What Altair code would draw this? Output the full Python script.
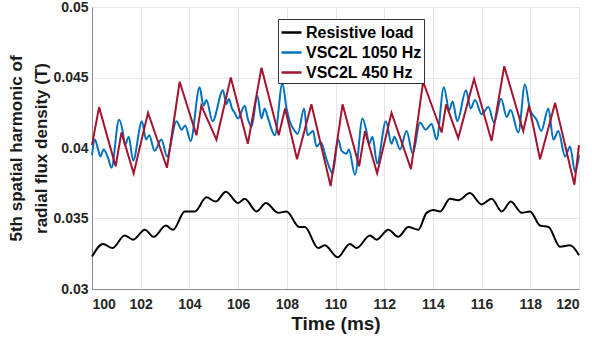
import altair as alt
import pandas as pd

# ---- data ----
res_t = [100.0, 100.45, 100.84, 101.34, 101.69, 102.17, 102.54, 103.03, 103.33, 103.81,
         104.22, 104.70, 105.08, 105.50, 106.0, 106.27, 106.76, 107.14, 107.65, 107.99,
         108.51, 108.74, 109.29, 109.56, 110.09, 110.59, 110.87, 111.41, 111.69, 112.17,
         112.58, 112.99, 113.40, 113.74, 114.02, 114.3, 114.70, 115.04, 115.52, 116.00,
         116.41, 116.83, 117.20, 117.65, 117.99, 118.40, 118.75, 119.22, 119.63, 120.0]
res_v = [0.0323, 0.0332, 0.0329, 0.0338, 0.0335, 0.0342, 0.0337, 0.0345, 0.0342, 0.0355,
         0.0355, 0.0365, 0.0362, 0.0369, 0.0361, 0.0364, 0.0355, 0.0361, 0.0354, 0.0355,
         0.0344, 0.0344, 0.0329, 0.0331, 0.03225, 0.0332, 0.0329, 0.0338, 0.0335, 0.0342,
         0.0337, 0.0344, 0.0342, 0.0354, 0.0356, 0.0355, 0.0364, 0.0363, 0.0368, 0.0360,
         0.0364, 0.0355, 0.0362, 0.0354, 0.0355, 0.0345, 0.0344, 0.0330, 0.0331, 0.0324]

blue_t = [100.00, 100.12, 100.25, 100.34, 100.48, 100.66, 100.80, 101.11, 101.27, 101.35,
          101.51, 101.69, 102.05, 102.22, 102.35, 102.57, 102.85, 103.08, 103.47, 103.68,
          103.83, 104.05, 104.42, 104.58, 104.70, 104.95, 105.38, 105.52, 105.62, 105.75,
          105.86, 106.00, 106.27, 106.41, 106.55, 106.79, 106.96, 107.09, 107.23, 107.51,
          107.82, 107.99, 108.12, 108.33, 108.45, 108.71, 108.85, 109.08, 109.22, 109.40,
          109.63, 109.88, 110.11, 110.25, 110.45, 110.55, 110.80, 111.11, 111.28, 111.38,
          111.52, 111.71, 112.07, 112.30, 112.42, 112.65, 112.92, 113.17, 113.47, 113.70,
          113.95, 114.15, 114.45, 114.67, 114.81, 115.00, 115.36, 115.55, 115.73, 116.00,
          116.28, 116.51, 116.80, 117.03, 117.19, 117.51, 117.78, 117.99, 118.26, 118.45,
          118.74, 118.95, 119.15, 119.43, 119.63, 119.84, 120.00]
blue_v = [0.0395, 0.0406, 0.0399, 0.0394, 0.0399, 0.0393, 0.0386, 0.0420, 0.0411, 0.0402,
          0.0408, 0.0391, 0.0419, 0.0406, 0.0409, 0.0398, 0.0406, 0.0394, 0.0419, 0.0413,
          0.0416, 0.0405, 0.0443, 0.0430, 0.0434, 0.0419, 0.0441, 0.0431, 0.0435, 0.0428,
          0.0425, 0.0421, 0.0430, 0.0420, 0.0415, 0.0437, 0.0421, 0.0428, 0.0421, 0.0409,
          0.0446, 0.0428, 0.0419, 0.0412, 0.0410, 0.0428, 0.0409, 0.0412, 0.0401, 0.0404,
          0.0392, 0.0382, 0.0406, 0.0398, 0.0396, 0.0399, 0.0381, 0.0421, 0.0411, 0.0403,
          0.0408, 0.0389, 0.0419, 0.0403, 0.0408, 0.0399, 0.0412, 0.0396, 0.0418, 0.0413,
          0.0417, 0.0406, 0.0443, 0.0427, 0.0433, 0.0419, 0.0441, 0.0428, 0.0434, 0.0424,
          0.0429, 0.0418, 0.0435, 0.0422, 0.0427, 0.0411, 0.0445, 0.0427, 0.0420, 0.0412,
          0.0428, 0.0406, 0.0412, 0.0394, 0.0401, 0.0383, 0.0395]

red_t = [100.00, 100.29, 100.97, 101.21, 101.71, 102.30, 103.08, 103.60, 104.29, 104.49,
         105.11, 105.70, 106.40, 106.96, 107.67, 107.93, 108.42, 109.01, 109.80, 110.29,
         110.97, 111.21, 111.71, 112.30, 113.10, 113.60, 114.36, 114.54, 115.04, 115.69,
         116.41, 116.93, 117.71, 117.95, 118.40, 119.02, 119.81, 120.00]
red_v = [0.0402, 0.0429, 0.0387, 0.0411, 0.0382, 0.0425, 0.0386, 0.0447, 0.0409, 0.0430,
         0.0406, 0.0450, 0.0403, 0.0457, 0.0409, 0.0428, 0.0392, 0.0431, 0.0373, 0.0431,
         0.0387, 0.0412, 0.0382, 0.0425, 0.0385, 0.0447, 0.0411, 0.0431, 0.0407, 0.0449,
         0.0405, 0.0458, 0.0412, 0.0430, 0.0392, 0.0432, 0.0374, 0.0402]

series_names = ["Resistive load", "VSC2L 1050 Hz", "VSC2L 450 Hz"]
series_colors = ["#000000", "#0072BD", "#A2142F"]
x_ticks = list(range(100, 121, 2))
y_ticks = [0.03, 0.035, 0.04, 0.045, 0.05]

df_smooth = pd.concat([
    pd.DataFrame({"t": res_t, "v": res_v, "s": series_names[0], "o": range(len(res_t))}),
    pd.DataFrame({"t": blue_t, "v": blue_v, "s": series_names[1], "o": range(len(blue_t))}),
])
df_red = pd.DataFrame({"t": red_t, "v": red_v, "s": series_names[2], "o": range(len(red_t))})

FONT = "Liberation Sans"

x_enc = alt.X("t:Q", scale=alt.Scale(domain=[100, 120], nice=False, zero=False),
              axis=alt.Axis(values=x_ticks, format="d", title="Time (ms)",
                            titleFontSize=19, titlePadding=3, labelPadding=8))
y_enc = alt.Y("v:Q", scale=alt.Scale(domain=[0.03, 0.05], nice=False, zero=False),
              axis=alt.Axis(values=y_ticks, format="~g",
                            title=["5th spatial harmonic of", "radial flux density (T)"],
                            titleFontSize=17, titleLineHeight=25, titleX=-67, titleY=141,
                            titleAngle=-90, titleBaseline="bottom", titleAlign="center",
                            labelPadding=4))
color_enc = alt.Color("s:N", scale=alt.Scale(domain=series_names, range=series_colors),
                      title=None,
                      legend=alt.Legend(orient="none", legendX=186, legendY=12,
                                        fillColor="white", strokeColor="#333333",
                                        padding=2, rowPadding=0, symbolType="stroke",
                                        symbolSize=400, symbolStrokeWidth=2.5,
                                        labelFontSize=16, labelFontWeight="bold",
                                        labelColor="#000000", labelOffset=3, labelFont=FONT))

smooth = alt.Chart(df_smooth).mark_line(strokeWidth=2, interpolate="monotone").encode(
    x=x_enc, y=y_enc, color=color_enc, order="o:Q")
red = alt.Chart(df_red).mark_line(strokeWidth=2).encode(
    x=x_enc, y=y_enc, color=color_enc, order="o:Q")

chart = alt.layer(smooth, red).properties(
    width=487, height=282,
    autosize=alt.AutoSizeParams(type="none"),
    padding={"left": 92, "top": 7, "right": 13, "bottom": 56},
).configure(font=FONT, background="white").configure_view(
    stroke="#8a8a8a", strokeWidth=1
).configure_axis(
    labelFont=FONT, titleFont=FONT, labelFontSize=14, labelFontWeight="bold",
    titleFontWeight="bold", labelColor="#262626", titleColor="#1a1a1a",
    gridColor="#e6e6e6", gridWidth=1, domainColor="#8a8a8a", tickSize=0,
)

chart.save("out.html", embed_options={"renderer": "svg", "actions": False})
